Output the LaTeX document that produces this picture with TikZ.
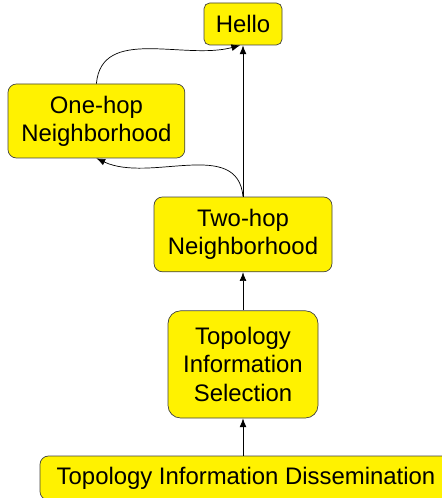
\documentclass[tikz,border=0pt]{standalone}
\usepackage{fontspec}
\setmainfont{Liberation Sans}
\usetikzlibrary{arrows.meta}
\begin{document}
\begin{tikzpicture}[
  font=\fontsize{17}{20}\selectfont,
  block/.style={draw=black!75, fill=yellow, rounded corners=6pt, align=center, inner sep=0pt, line width=0.5pt},
  link/.style={-{Latex[length=2.2mm,width=1.7mm]}, line width=0.5pt}
]
\useasboundingbox (0,0) rectangle (11.025,-12.45);
\node[block, minimum width=1.95cm, minimum height=1.05cm, rounded corners=4pt] (hello) at (6.075,-0.6) {Hello};
\node[block, minimum width=4.42cm, minimum height=1.85cm] (onehop) at (2.41,-3.025) {One-hop\\Neighborhood};
\node[block, minimum width=4.45cm, minimum height=1.87cm] (twohop) at (6.075,-5.86) {Two-hop\\Neighborhood};
\node[block, minimum width=3.75cm, minimum height=2.68cm, rounded corners=9pt] (select) at (6.075,-9.11) {Topology\\Information\\Selection};
\node[block, minimum width=10.3cm, minimum height=1.1cm] (dissem) at (6.15,-11.95) {Topology Information Dissemination};
\draw[link] (dissem.north -| select.south) -- (select.south);
\draw[link] (select) -- (twohop);
\draw[link] (twohop) -- (hello);
\draw[link] (twohop.north) to[out=95,in=-25] (onehop.south);
\draw[link] (onehop.north) to[out=85,in=-165] ([xshift=-2pt]hello.south);
\end{tikzpicture}
\end{document}
